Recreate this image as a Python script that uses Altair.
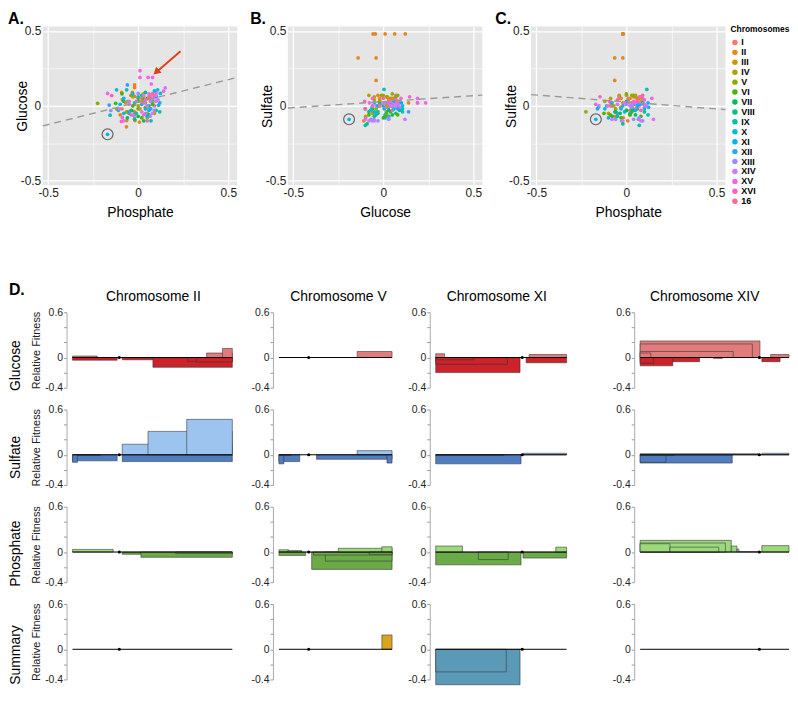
import math
import altair as alt
import pandas as pd

FONT = "Liberation Sans"

# ---------------- scatter data (panels A-C) ----------------
chrom_levels = ["I", "II", "III", "IV", "V", "VI", "VII", "VIII", "IX", "X",
                "XI", "XII", "XIII", "XIV", "XV", "XVI", "16"]

pt_chrom = ["I", "I", "I", "II", "II", "II", "II", "II", "II", "II", "II", "II", "II", "II", "II", "II", "II", "II",
            "III", "III", "III", "III", "IV", "IV", "IV", "IV", "IV", "V", "V", "V", "V", "V",
            "VI", "VI", "VI", "VI", "VI", "VII", "VII", "VII", "VII", "VII", "VIII", "VIII", "VIII", "VIII",
            "IX", "IX", "IX", "IX", "IX", "X", "X", "X", "X", "X", "X", "XI", "XI", "XI", "XI", "XI", "XI",
            "XII", "XII", "XII", "XII", "XIII", "XIII", "XIII", "XIII", "XIII", "XIII", "XIII",
            "XIV", "XIV", "XIV", "XIV", "XIV", "XIV", "XIV", "XIV", "XIV", "XIV", "XIV",
            "XV", "XV", "XV", "XV", "XV", "XV", "XV", "XV", "XV", "XV", "XV",
            "XVI", "XVI", "XVI", "XVI", "XVI", "XVI", "16",
            "VII", "IV", "VI", "IX", "XI", "XIII", "XV", "III", "VIII", "X", "XIV", "XVI", "II", "V", "XII", "I", "XIV",
            "I", "III", "IV", "V", "VI", "VII", "VIII", "IX", "X", "XI", "XII", "XIII", "XIV", "XV", "XVI",
            "XIV", "XV", "X", "VI", "II"]
pt_phosphate = [-0.05, 0.06, 0.02, -0.02, -0.02, -0.02, -0.02, -0.02, -0.065, -0.02, -0.065, -0.02, -0.092, -0.032,
                -0.064, -0.018, 0.007, 0.04,
                -0.04, 0.03, -0.1, 0.05, -0.088, 0.0, -0.12, 0.07, 0.05, -0.225, 0.0, 0.04, 0.08, -0.06,
                -0.125, 0.0, 0.03, 0.06, -0.03, -0.035, 0.031, 0.05, 0.0, -0.08, 0.02, -0.05, 0.1, 0.06,
                -0.064, 0.071, 0.113, 0.03, 0.12, -0.12, 0.108, 0.123, -0.156, 0.08, -0.02, -0.17, -0.1, 0.12, -0.08,
                0.04, -0.11,
                -0.06, -0.161, -0.05, 0.02, -0.152, 0.0, -0.027, 0.04, 0.066, 0.09, -0.06,
                -0.105, 0.06, 0.07, 0.08, 0.09, 0.1, 0.15, -0.02, 0.05, -0.08, 0.02,
                0.01, 0.01, 0.055, 0.08, 0.073, -0.17, 0.141, 0.099, -0.088, 0.06, 0.07,
                -0.147, -0.093, 0.06, 0.08, 0.03, 0.09, 0.09,
                0.0, -0.03, 0.02, -0.01, 0.06, 0.03, 0.04, 0.01, -0.02, 0.1, -0.05, 0.05, 0.02, 0.03, 0.07, -0.09, 0.11,
                0.08, -0.07, 0.09, -0.04, 0.08, -0.06, 0.04, 0.0, -0.08, 0.09, -0.03, 0.07, 0.03, -0.01, -0.04,
                0.08, 0.1, 0.05, -0.09, 0.06]
pt_glucose = [0.03, -0.02, 0.05, -0.057, -0.044, 0.01, 0.063, 0.122, -0.14, -0.04, -0.04, 0.14, 0.09, 0.09,
              -0.098, -0.098, -0.108, 0.02,
              -0.03, 0.06, -0.06, -0.05, 0.042, 0.0, -0.02, 0.03, -0.08, 0.017, 0.05, -0.01, 0.02, -0.04,
              0.017, -0.02, 0.04, -0.06, 0.0, -0.031, -0.1, 0.05, -0.07, 0.03, 0.07, -0.05, -0.03, 0.0,
              0.107, -0.1, 0.004, 0.03, -0.04, 0.107, 0.107, 0.083, -0.062, 0.04, 0.02, -0.19, 0.01, 0.02, 0.05,
              -0.02, -0.03,
              0.14, 0.005, -0.04, 0.01, -0.031, 0.083, -0.062, -0.052, -0.069, -0.03, 0.03,
              -0.02, 0.06, 0.07, 0.08, 0.06, 0.09, 0.12, -0.08, 0.0, -0.1, -0.04,
              0.235, 0.19, 0.19, 0.19, 0.146, 0.083, 0.098, 0.031, -0.077, 0.08, 0.05,
              0.069, -0.104, 0.06, 0.05, -0.06, 0.0, 0.07,
              0.03, 0.06, -0.08, -0.05, -0.03, 0.02, 0.04, -0.02, -0.09, 0.06, 0.01, -0.1, 0.03, 0.08, -0.02, -0.02,
              0.04,
              0.08, 0.02, -0.05, 0.07, 0.01, -0.08, 0.09, 0.06, -0.05, 0.1, 0.08, 0.03, 0.07, 0.03, -0.06,
              -0.05, 0.07, -0.07, 0.08, 0.05]
pt_sulfate = [0.04, 0.05, -0.03, 0.48, 0.48, 0.48, 0.48, 0.48, 0.32, 0.32, 0.17, 0.02, 0.03, -0.01,
              -0.07, -0.08, -0.1, 0.06,
              0.07, 0.02, -0.05, 0.06, 0.05, 0.07, 0.03, 0.05, 0.07, -0.04, 0.08, 0.07, 0.06, -0.02,
              -0.05, 0.02, -0.04, -0.02, -0.08, -0.05, -0.02, -0.06, -0.03, -0.07, -0.05, -0.07, -0.04, 0.0,
              -0.04, -0.13, 0.11, -0.01, -0.06, -0.02, 0.0, -0.01, -0.01, 0.01, 0.0, -0.09, -0.08, 0.02, 0.0,
              0.01, 0.0,
              -0.04, -0.02, -0.05, -0.06, 0.0, 0.01, -0.1, -0.09, -0.09, -0.1, -0.09,
              0.0, 0.02, 0.0, 0.01, 0.02, -0.01, -0.09, -0.1, 0.02, -0.09, 0.0,
              0.02, 0.05, 0.02, 0.02, 0.06, 0.01, 0.05, 0.01, 0.02, 0.03, 0.0,
              0.06, 0.03, 0.04, -0.03, 0.0, 0.05, 0.07,
              -0.03, 0.05, -0.06, -0.04, 0.0, -0.01, 0.03, 0.04, -0.12, -0.02, 0.01, -0.02, 0.05, 0.07, 0.01, 0.0,
              0.0,
              0.03, 0.0, 0.04, 0.06, -0.07, -0.04, -0.03, 0.03, 0.02, 0.02, -0.02, -0.08, 0.01, 0.02, 0.05,
              -0.1, 0.04, -0.03, -0.06, 0.05]
circled_point = 57

# dashed fit lines (intercept, slope) for panels A, B, C
fit_intercept = [0.025, 0.028, 0.026]
fit_slope = [0.30, 0.08, -0.093]

# red arrow in panel A (tail -> head), in Phosphate/Glucose units
arrow_x = [0.235, 0.100]
arrow_y = [0.365, 0.225]

# ---------------- segment data (panel D) ----------------
chrom_cols = ["II", "V", "XI", "XIV"]
chrom_len = [813, 577, 666, 784]
chrom_cen = [238, 152, 440, 628]
row_names = ["Glucose", "Sulfate", "Phosphate", "Summary"]

# (start kb, end kb, relative fitness)
glucose_II = [(409, 813, -0.13), (586, 813, -0.05), (631, 813, -0.06), (0, 227, -0.035), (253, 409, -0.03),
              (0, 126, 0.02), (682, 813, 0.06), (763, 813, 0.12)]
glucose_V = [(399, 577, 0.08)]
glucose_XI = [(0, 429, -0.2), (0, 364, -0.09), (0, 192, -0.03), (0, 45, 0.05), (460, 666, -0.07),
              (475, 666, 0.04)]
glucose_XIV = [(0, 631, 0.22), (0, 591, 0.18), (0, 490, 0.08), (0, 56, 0.06), (0, 313, -0.055),
               (0, 172, -0.11), (0, 71, -0.075), (384, 434, -0.01), (641, 737, -0.055), (687, 784, 0.04)]
sulfate_II = [(0, 227, -0.08), (0, 25, -0.1), (25, 141, -0.01), (253, 813, -0.09), (253, 813, 0.14),
              (384, 813, 0.31), (581, 813, 0.47)]
sulfate_V = [(0, 106, -0.09), (0, 25, -0.12), (0, 61, -0.01), (192, 577, -0.06), (399, 577, 0.055),
             (551, 577, -0.11)]
sulfate_XI = [(0, 434, -0.12), (0, 348, -0.01), (444, 666, 0.02)]
sulfate_XIV = [(0, 485, -0.11), (0, 136, -0.1), (0, 182, -0.01), (0, 621, 0.015), (641, 784, 0.02)]
phosphate_II = [(0, 207, 0.035), (253, 813, -0.03), (348, 813, -0.07), (525, 813, -0.02)]
phosphate_V = [(0, 50, 0.03), (45, 116, 0.02), (0, 136, -0.045), (167, 577, -0.23), (237, 577, -0.12),
               (177, 577, -0.04), (303, 577, 0.05), (525, 577, 0.07), (460, 577, -0.03)]
phosphate_XI = [(0, 434, -0.17), (217, 369, -0.1), (0, 136, 0.08), (444, 666, -0.08), (611, 666, 0.065)]
phosphate_XIV = [(0, 480, 0.155), (0, 449, 0.12), (0, 157, 0.11), (157, 414, 0.065), (480, 510, 0.08),
                 (510, 520, 0.04), (520, 631, 0.005), (641, 784, 0.085)]
summary_II = []
summary_V = [(525, 577, 0.19)]
summary_XI = [(0, 429, -0.47), (0, 359, -0.3)]
summary_XIV = []

segments = {
    ("Glucose", "II"): glucose_II, ("Glucose", "V"): glucose_V,
    ("Glucose", "XI"): glucose_XI, ("Glucose", "XIV"): glucose_XIV,
    ("Sulfate", "II"): sulfate_II, ("Sulfate", "V"): sulfate_V,
    ("Sulfate", "XI"): sulfate_XI, ("Sulfate", "XIV"): sulfate_XIV,
    ("Phosphate", "II"): phosphate_II, ("Phosphate", "V"): phosphate_V,
    ("Phosphate", "XI"): phosphate_XI, ("Phosphate", "XIV"): phosphate_XIV,
    ("Summary", "II"): summary_II, ("Summary", "V"): summary_V,
    ("Summary", "XI"): summary_XI, ("Summary", "XIV"): summary_XIV,
}

# ---------------- styling ----------------
def hcl_hex(h, c=100.0, l=65.0):
    hr = math.radians(h)
    u, v = c * math.cos(hr), c * math.sin(hr)
    Xn, Yn, Zn = 95.047, 100.0, 108.883
    Y = Yn * ((l + 16) / 116) ** 3
    den = Xn + 15 * Yn + 3 * Zn
    un, vn = 4 * Xn / den, 9 * Yn / den
    up, vp = u / (13 * l) + un, v / (13 * l) + vn
    X = Y * 9 * up / (4 * vp)
    Z = Y * (12 - 3 * up - 20 * vp) / (4 * vp)
    X, Y, Z = X / 100, Y / 100, Z / 100
    rgb = (3.2404542 * X - 1.5371385 * Y - 0.4985314 * Z,
           -0.9692660 * X + 1.8760108 * Y + 0.0415560 * Z,
           0.0556434 * X - 0.2040259 * Y + 1.0572252 * Z)

    def gam(t):
        t = t * 12.92 if t <= 0.0031308 else 1.055 * (max(t, 0) ** (1 / 2.4)) - 0.055
        return max(0.0, min(1.0, t))
    return "#%02x%02x%02x" % tuple(int(round(gam(t) * 255)) for t in rgb)


n_lv = len(chrom_levels)
chrom_colors = [hcl_hex(15 + i * 360.0 / n_lv) for i in range(n_lv)]

shade_domain = ["Glucose+", "Glucose-", "Sulfate+", "Sulfate-", "Phosphate+", "Phosphate-",
                "Summary+", "Summary-"]
shade_range = ["#E27C7C", "#CC2229", "#9DC4EF", "#4F7DC1", "#9BD97B", "#6AAA47", "#D9A420", "#5B9AB6"]

col_domain = {"II": 833, "V": 577, "XI": 823, "XIV": 784}
col_width = {"II": 165, "V": 114, "XI": 163, "XIV": 150}
col_title_dx = {"II": -1, "V": 3, "XI": -20, "XIV": -10}
row_title_dx = {"Glucose": -24, "Sulfate": -10, "Phosphate": -9, "Summary": -13}

# ---------------- scatter panels ----------------
pts = pd.DataFrame({"chrom": pt_chrom, "Phosphate": pt_phosphate,
                    "Glucose": pt_glucose, "Sulfate": pt_sulfate})
XDOM = [-0.53, 0.55]
YDOM = [-0.53, 0.53]
SW, SH = 196, 160


def sc_axis(title, is_x):
    kw = dict(values=[-0.5, -0.25, 0, 0.25, 0.5],
              labelExpr="datum.value == 0.5 ? '0.5' : datum.value == -0.5 ? '-0.5' : datum.value == 0 ? '0' : ''",
              grid=True, gridColor="white",
              gridWidth={"condition": {"test": "abs(datum.value) == 0.25", "value": 0.6}, "value": 1.2},
              ticks=False, domain=False, labelFontSize=12, labelColor="#222", labelPadding=2,
              labelFont=FONT, title=title, titleFontSize=14, titleFontWeight="normal", titleColor="#000",
              titleFont=FONT)
    if is_x:
        kw.update(titlePadding=7)
    else:
        kw.update(titleX=-13, titleY=SH / 2)
    return alt.Axis(**kw)


def scatter(xf, yf, letter, ix, dx):
    xs = alt.Scale(domain=XDOM, nice=False, zero=False)
    ys = alt.Scale(domain=YDOM, nice=False, zero=False)
    xa = sc_axis(xf, True)
    ya = sc_axis(yf, False)
    if ix == 2:
        leg = alt.Legend(title="Chromosomes", orient="none", legendX=201, legendY=-1,
                         titleFontSize=8.5, titleFont=FONT, titleFontWeight="bold", titleColor="#000",
                         titlePadding=4, labelFontSize=9, labelFont=FONT, labelFontWeight="bold",
                         labelColor="#000", symbolType="circle", symbolSize=30, symbolStrokeWidth=0,
                         rowPadding=0, clipHeight=9.2, padding=0, labelOffset=2)
        color = alt.Color("chrom:N", scale=alt.Scale(domain=chrom_levels, range=chrom_colors), legend=leg)
    else:
        color = alt.Color("chrom:N", scale=alt.Scale(domain=chrom_levels, range=chrom_colors), legend=None)
    points = alt.Chart(pts).mark_circle(size=14, opacity=1).encode(
        x=alt.X(f"{xf}:Q", scale=xs, axis=xa), y=alt.Y(f"{yf}:Q", scale=ys, axis=ya), color=color)
    fit = pd.DataFrame({"fx": XDOM, "fy": [fit_intercept[ix] + fit_slope[ix] * v for v in XDOM]})
    line = alt.Chart(fit).mark_line(color="#9a9a9a", strokeDash=[7, 5], strokeWidth=1.4).encode(
        x=alt.X("fx:Q", scale=xs, axis=xa), y=alt.Y("fy:Q", scale=ys, axis=ya))
    ring = alt.Chart(pts.iloc[[circled_point]]).mark_point(
        shape="circle", filled=False, size=120, color="#666666", strokeWidth=1.2, opacity=1).encode(
        x=alt.X(f"{xf}:Q", scale=xs, axis=xa), y=alt.Y(f"{yf}:Q", scale=ys, axis=ya))
    layers = [points, line, ring]
    if ix == 0:
        adf = pd.DataFrame({"ax": [arrow_x[0]], "ay": [arrow_y[0]], "bx": [arrow_x[1]], "by": [arrow_y[1]]})
        shaft = alt.Chart(adf).mark_rule(color="#E2401C", strokeWidth=2).encode(
            x=alt.X("ax:Q", scale=xs, axis=xa), y=alt.Y("ay:Q", scale=ys, axis=ya), x2="bx:Q", y2="by:Q")
        head = alt.Chart(adf).mark_point(shape="triangle-up", filled=True, size=70, angle=228,
                                         color="#E2401C", opacity=1).encode(
            x=alt.X("bx:Q", scale=xs, axis=xa), y=alt.Y("by:Q", scale=ys, axis=ya))
        layers += [shaft, head]
    return alt.layer(*layers).properties(
        width=SW, height=SH,
        view=alt.ViewBackground(fill="#E5E5E5", stroke=None),
        title=alt.TitleParams(letter, anchor="start", frame="group", dx=dx, fontSize=16, fontWeight="bold",
                              font=FONT, color="#000", offset=-2))


panel_a = scatter("Phosphate", "Glucose", "A.", 0, -35)
panel_b = scatter("Glucose", "Sulfate", "B.", 1, -38)
panel_c = scatter("Phosphate", "Sulfate", "C.", 2, -36)
top = alt.hconcat(panel_a, panel_b, panel_c, spacing=10).resolve_scale(
    x="independent", y="independent", color="independent")

# ---------------- segment panels ----------------
PH = 76
Y_TICKS = [-0.4, -0.2, 0, 0.2, 0.4, 0.6]


def seg_panel(row, chrom, first_col, first_row):
    ci = chrom_cols.index(chrom)
    xs = alt.Scale(domain=[0, col_domain[chrom]], nice=False, zero=False)
    ys = alt.Scale(domain=[-0.4, 0.6], nice=False, zero=False)
    akw = dict(values=Y_TICKS,
               labelExpr="datum.value == 0.6 ? '0.6' : datum.value == 0 ? '0' : datum.value == -0.4 ? '-0.4' : ''",
               grid=False, tickSize=3, tickColor="#999", domainColor="#aaa", offset=6, labelPadding=1,
               labelFontSize=10.5, labelFont=FONT, labelColor="#222")
    if first_col:
        akw.update(title="Relative Fitness", titleFontSize=11, titleFontWeight="normal", titleFont=FONT,
                   titleColor="#222", titlePadding=3)
    else:
        akw.update(title=None)
    ya = alt.Axis(**akw)
    segs = segments[(row, chrom)]
    layers = []
    if segs:
        df = pd.DataFrame({
            "start": [s[0] for s in segs], "end": [s[1] for s in segs], "value": [s[2] for s in segs],
            "base": [0.0] * len(segs), "seq": list(range(len(segs))),
            "shade": [row + ("+" if s[2] > 0 else "-") for s in segs]})
        layers.append(alt.Chart(df).mark_rect(stroke="#333333", strokeWidth=0.7, strokeOpacity=0.8).encode(
            x=alt.X("start:Q", scale=xs, axis=None), x2="end:Q",
            y=alt.Y("value:Q", scale=ys, axis=ya), y2="base:Q",
            fill=alt.Fill("shade:N", scale=alt.Scale(domain=shade_domain, range=shade_range), legend=None),
            order=alt.Order("seq:Q")))
    zdf = pd.DataFrame({"s": [0], "e": [chrom_len[ci]], "c": [chrom_cen[ci]], "zero": [0.0]})
    layers.append(alt.Chart(zdf).mark_rule(color="#000", strokeWidth=1).encode(
        x=alt.X("s:Q", scale=xs, axis=None), x2="e:Q", y=alt.Y("zero:Q", scale=ys, axis=ya)))
    layers.append(alt.Chart(zdf).mark_circle(color="#000", size=10, opacity=1).encode(
        x=alt.X("c:Q", scale=xs, axis=None), y=alt.Y("zero:Q", scale=ys, axis=ya)))
    props = dict(width=col_width[chrom], height=PH, view=alt.ViewBackground(stroke=None))
    if first_row:
        props["title"] = alt.TitleParams(f"Chromosome {chrom}", anchor="middle", frame="group",
                                         dx=col_title_dx[chrom], fontSize=14, fontWeight="normal",
                                         font=FONT, color="#000", offset=3)
    return alt.layer(*layers).properties(**props)


def spacer():
    return alt.Chart(pd.DataFrame({"v": [0]})).mark_point(opacity=0, size=0).encode(
        x=alt.X("v:Q", axis=None), y=alt.Y("v:Q", axis=None)).properties(
        width=1, height=PH, view=alt.ViewBackground(stroke=None))


rows = []
for ri, row in enumerate(row_names):
    panels = [seg_panel(row, c, ci == 0, ri == 0) for ci, c in enumerate(chrom_cols)]
    inner = alt.hconcat(*panels, spacing=14).resolve_scale(x="independent", y="independent")
    rows.append(alt.hconcat(spacer(), inner, spacing=-14).resolve_scale(x="independent", y="independent")
                .properties(title=alt.TitleParams(row, orient="left", anchor="middle", fontSize=14,
                                                  fontWeight="normal", font=FONT, color="#000", offset=8,
                                                  dx=row_title_dx[row])))

bottom = alt.vconcat(*rows, spacing=11).resolve_scale(x="independent", y="independent").properties(
    title=alt.TitleParams("D.", anchor="start", fontSize=16, fontWeight="bold", font=FONT, color="#000",
                          offset=-8))

chart = alt.vconcat(top, bottom, spacing=64).resolve_scale(
    x="independent", y="independent", color="independent", fill="independent").properties(
    padding=0, background="white").configure(font=FONT)

chart.save("out.html", embed_options={"renderer": "svg", "actions": False})
